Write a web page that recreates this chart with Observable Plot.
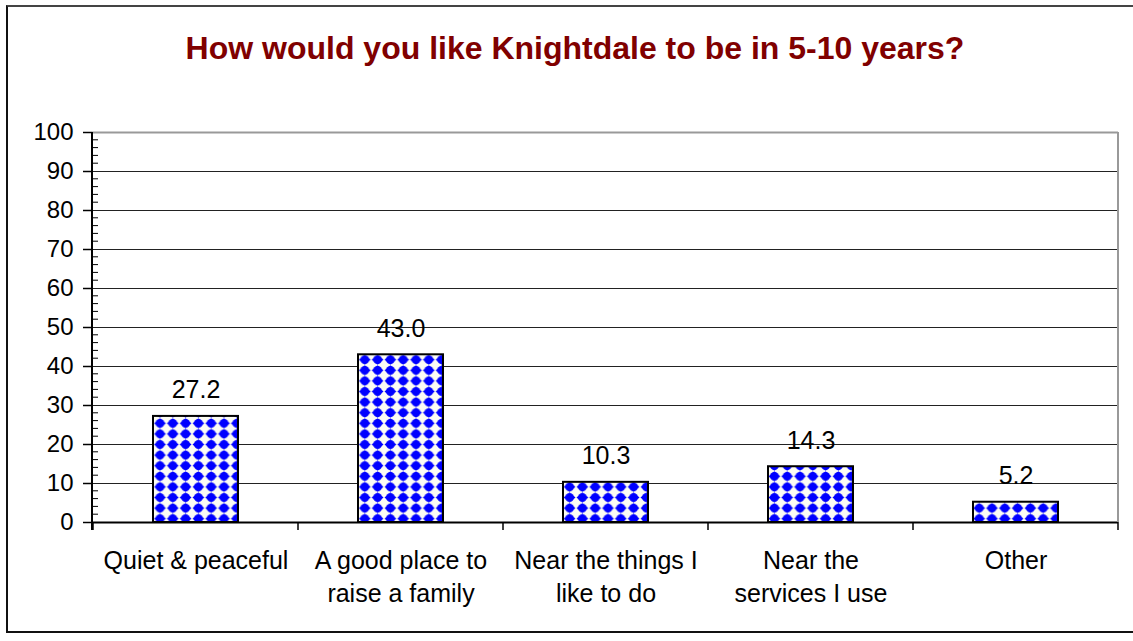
<!DOCTYPE html>
<html><head><meta charset="utf-8">
<script src="https://cdn.jsdelivr.net/npm/d3@7"></script>
<script src="https://cdn.jsdelivr.net/npm/@observablehq/plot@0.6"></script>
<style>
body{margin:0;background:#fff;font-family:"Liberation Sans",Arial,sans-serif;}
#wrap{position:relative;width:1133px;height:641px;overflow:hidden;background:#fff;}
#frame{position:absolute;left:6px;top:5px;width:1140px;height:624px;border-left:2px solid #111;border-top:2px solid #444;border-bottom:2px solid #111;}
#title{position:absolute;top:32px;left:0;width:1150px;text-align:center;font-weight:bold;font-size:32px;line-height:32px;color:#800000;}
#chart{position:absolute;left:0;top:100px;}
</style></head>
<body>
<div id="wrap"><div id="frame"></div><div id="title">How would you like Knightdale to be in 5-10 years?</div><div id="chart"></div></div>
<script>
const categories = ["Quiet & peaceful","A good place to raise a family","Near the things I like to do","Near the services I use","Other"];
const labels = ["Quiet & peaceful","A good place to\nraise a family","Near the things I\nlike to do","Near the\nservices I use","Other"];
const values = [27.2, 43.0, 10.3, 14.3, 5.2];
const majorTicks = d3.range(0, 101, 10);
const minorTicks = d3.range(0, 101, 2).filter(v => v % 10 !== 0);
const gridTicks = d3.range(10, 100, 10);

const data = categories.map((c, i) => ({cat: c, label: labels[i], value: values[i]}));

function decorations(index, scales, values, dims) {
  const g = d3.create("svg:g");
  const x0 = dims.marginLeft, x1 = dims.width - dims.marginRight;
  const yb = dims.height - dims.marginBottom, yt = dims.marginTop;
  g.append("line").attr("x1", x1).attr("x2", x1).attr("y1", yt).attr("y2", yb)
    .attr("stroke", "#999").attr("stroke-width", 2);
  for (const t of minorTicks) {
    const y = scales.y(t);
    g.append("line").attr("x1", x0).attr("x2", x0 + 6).attr("y1", y).attr("y2", y)
      .attr("stroke", "#000").attr("stroke-width", 1);
  }
  const xs = categories.map(c => scales.x(c)).concat([x1]);
  for (const x of xs) {
    g.append("line").attr("x1", x).attr("x2", x).attr("y1", yb).attr("y2", yb + 8)
      .attr("stroke", "#000").attr("stroke-width", 1.5);
  }
  g.append("line").attr("x1", x0).attr("x2", x0).attr("y1", yt).attr("y2", yb + 8)
    .attr("stroke", "#000").attr("stroke-width", 2);
  return g.node();
}

const svg = Plot.plot({
  width: 1133,
  height: 520,
  marginTop: 32,
  marginBottom: 98,
  marginLeft: 92,
  marginRight: 15,
  style: {fontFamily: "Liberation Sans, Arial, sans-serif", fontSize: "24px", color: "#000", background: "transparent", overflow: "visible"},
  x: {type: "band", domain: categories, padding: 0, axis: null},
  y: {domain: [0, 100], axis: null},
  marks: [
    Plot.ruleY(gridTicks, {stroke: "#222", strokeWidth: 1, strokeOpacity: 1}),
    Plot.ruleY([100], {stroke: "#999", strokeWidth: 2, strokeOpacity: 1}),
    Plot.barY(data, {x: "cat", y: "value", fill: "url(#diamonds)", stroke: "#000", strokeWidth: 2, insetLeft: 60, insetRight: 60}),
    Plot.ruleY([0], {stroke: "#000", strokeWidth: 2}),
    Plot.axisY({ticks: majorTicks, anchor: "left", tickSize: 9, tickPadding: 10, fontSize: 24, label: null, strokeWidth: 1.5}),
    decorations,
    Plot.text(data, {x: "cat", y: "value", text: d => d.value.toFixed(1), dy: -18, lineAnchor: "bottom", fontSize: 25, fill: "#000"}),
    Plot.text(data, {x: "cat", y: () => 0, text: "label", dy: 23, lineAnchor: "top", lineHeight: 1.32, fontSize: 25, fill: "#000"})
  ]
});

d3.select(svg).insert("defs", ":first-child").html(`
  <pattern id="diamonds" patternUnits="userSpaceOnUse" x="0" y="0" width="12.8" height="10.6">
    <rect width="12.8" height="10.6" fill="#fcfcf4"/>
    <polygon points="6.4,0.2 12.3,5.3 6.4,10.4 0.5,5.3" fill="#0000ff"/>
    <circle cx="6.4" cy="5.3" r="4.3" fill="#0000ff"/>
  </pattern>`);

document.getElementById("chart").appendChild(svg);
</script>
</body></html>
